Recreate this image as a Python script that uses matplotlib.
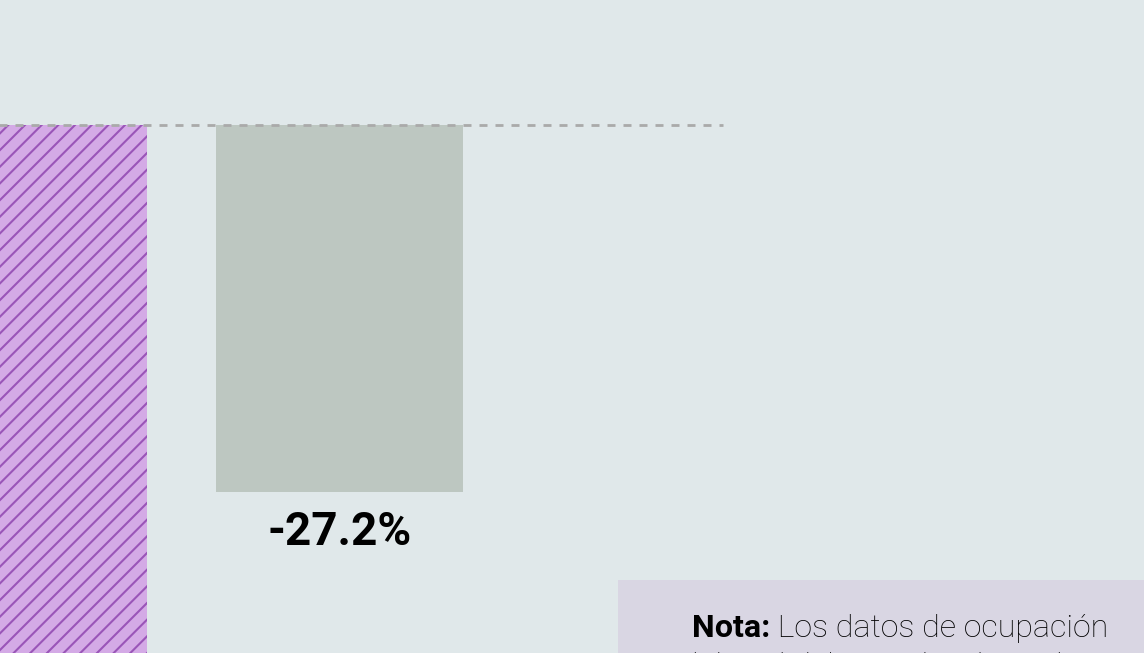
import matplotlib
matplotlib.use("Agg")
import matplotlib.pyplot as plt
from matplotlib.patches import Rectangle

categories = ["Anterior", "Actual"]
values = [-45.0, -27.2]
value_labels = [None, "-27.2%"]
note_bold = "Nota:"
note_line1 = " Los datos de ocupación"
note_line2 = "laboral del mes de julio incluyen"

BG = "#E0E8EA"
plt.rcParams['hatch.linewidth'] = 1.5
plt.rcParams['hatch.color'] = "#9A55B8"

fig = plt.figure(figsize=(11.44, 6.53), dpi=100, facecolor=BG)
ax = fig.add_axes([0, 0, 1, 1])
ax.set_facecolor(BG)

# pixel mapping: category i centre at 23.5 + 316*i px; y=0 at 125 px
pxu = 367 / 27.2
ax.set_xlim(-23.5 / 316, (1144 - 23.5) / 316)
ax.set_ylim(-(653 - 125) / pxu, 125 / pxu)
ax.axis("off")

x = list(range(len(categories)))
bars = ax.bar(x, values, width=247 / 316, color=["#D4AAE6", "#BDC7C1"], linewidth=0, zorder=2)
bars[0].set_hatch("//")
bars[0].set_edgecolor("#9A55B8")
bars[0].set_linewidth(0)

ax.plot([-1, (723 - 23.5) / 316], [0, 0], color="#AAAAAA", lw=2,
        ls=(0, (2.88, 2.88)), zorder=3)

for xi, v, lab in zip(x, values, value_labels):
    if lab:
        ax.text(xi, v - 53 / pxu, lab, ha="center", va="baseline", fontsize=33,
                fontweight="bold", family="Roboto", color="#000000")

# note box
ax_trans = fig.transFigure
fig.patches.append(Rectangle((618 / 1144, 0), 1 - 618 / 1144, 73 / 653,
                             transform=ax_trans, facecolor="#D9D6E3", edgecolor="none", zorder=1))
t1 = fig.text(692 / 1144, 1 - 637 / 653, note_bold, fontsize=23.2, fontweight="bold",
              family="Roboto", color="#000000", va="baseline", ha="left")
fig.canvas.draw()
bb = t1.get_window_extent()
fig.text(bb.x1 / 1144, 1 - 637 / 653, note_line1, fontsize=23.2, fontweight="light",
         family="Roboto", color="#000000", va="baseline", ha="left")
fig.text(692 / 1144, 1 - 675 / 653, note_line2, fontsize=23.2, fontweight="light",
         family="Roboto", color="#000000", va="baseline", ha="left")

fig.savefig("out.png", dpi=100, facecolor=BG)
